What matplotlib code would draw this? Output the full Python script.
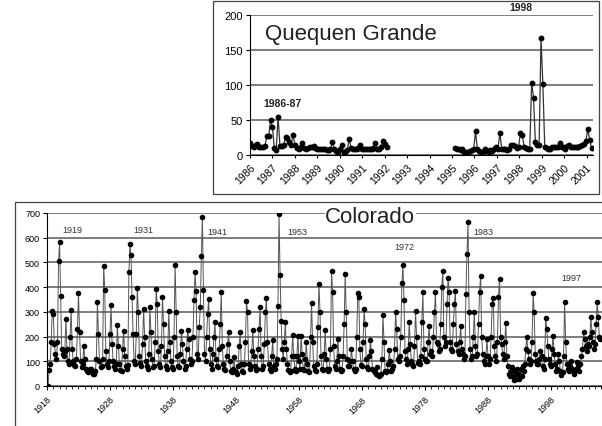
import numpy as np
import matplotlib.pyplot as plt
from matplotlib.patches import Rectangle

plt.rcParams['font.family'] = ['Liberation Sans', 'DejaVu Sans']

# --- Quequen Grande, caudal mensual (m3/s) ---
qg_start_1 = 1986.0
qg_flow_1 = [17, 13, 12, 15, 16, 12, 11, 11, 13, 27, 27, 50, 40, 10, 7, 55,
             13, 13, 14, 26, 25, 18, 15, 29, 14, 10, 9, 11, 17, 10, 9, 10,
             11, 12, 13, 10, 9, 9, 8, 8, 8, 7, 7, 8, 18, 9, 6, 4, 8, 14,
             4, 5, 7, 23, 10, 9, 8, 9, 10, 14, 9, 8, 8, 9, 8, 9, 10, 17,
             8, 9, 12, 20, 16, 11]
qg_start_2 = 1995.13
qg_flow_2 = [10, 9, 9, 7, 8, 5, 5, 4, 6, 7, 8, 34, 8, 6, 5, 5, 8, 6, 5, 7,
             6, 8, 12, 9, 31, 9, 8, 8, 7, 9, 14, 15, 13, 10, 11, 32, 28, 12,
             10, 9, 9, 103, 82, 18, 15, 14, 167, 101, 12, 10, 9, 9, 11, 11,
             12, 12, 17, 12, 12, 9, 13, 15, 12, 11, 12, 11, 12, 13, 14, 16,
             20, 37, 22, 10]
qg_years = list(range(1986, 2002))

# --- Colorado, caudal (m3/s), 6 valores por año ---
colorado_first_year = 1918
colorado_flow = [
    [0, 0, 65, 90, 180, 305],        # 1918
    [290, 170, 130, 110, 180, 505],
    [581, 365, 150, 130, 120, 140],
    [271, 150, 100, 90, 200, 307],
    [150, 100, 85, 80, 110, 230],
    [375, 220, 100, 75, 90, 163],
    [110, 70, 60, 55, 60, 70],
    [70, 55, 50, 50, 60, 110],
    [338, 210, 100, 75, 80, 110],
    [487, 390, 140, 90, 75, 100],
    [210, 329, 170, 100, 80, 70],    # 1928
    [90, 248, 160, 90, 65, 60],
    [150, 224, 120, 80, 70, 85],
    [460, 575, 530, 360, 210, 100],
    [90, 210, 397, 300, 120, 95],
    [80, 170, 312, 200, 100, 80],
    [70, 130, 321, 220, 110, 75],
    [80, 180, 393, 330, 140, 90],
    [75, 160, 362, 250, 120, 80],
    [70, 140, 302, 180, 100, 75],
    [70, 200, 491, 300, 120, 80],    # 1938
    [75, 130, 224, 170, 100, 70],
    [80, 150, 227, 190, 110, 90],
    [100, 200, 348, 460, 383, 130],
    [110, 240, 318, 527, 685, 388],
    [130, 100, 200, 290, 352, 150],
    [90, 70, 130, 200, 258, 110],
    [80, 75, 150, 250, 379, 160],
    [90, 70, 65, 120, 170, 217],
    [100, 60, 55, 70, 116, 60],
    [55, 50, 80, 160, 217, 90],      # 1948
    [60, 55, 90, 180, 345, 300],
    [90, 70, 80, 140, 227, 120],
    [80, 65, 70, 150, 230, 318],
    [120, 70, 80, 170, 300, 356],
    [180, 90, 70, 60, 120, 186],
    [80, 70, 90, 110, 325, 696],
    [449, 265, 150, 110, 180, 258],
    [150, 90, 65, 55, 60, 120],
    [206, 120, 70, 60, 120, 204],
    [100, 70, 204, 130, 70, 65],     # 1958
    [110, 177, 90, 60, 55, 200],
    [335, 180, 80, 65, 60, 90],
    [240, 413, 300, 120, 70, 65],
    [130, 227, 110, 70, 60, 70],
    [150, 467, 380, 160, 80, 70],
    [100, 190, 120, 70, 60, 65],
    [120, 250, 453, 300, 110, 80],
    [80, 100, 150, 100, 70, 60],
    [70, 200, 375, 360, 150, 85],
    [80, 180, 312, 250, 110, 75],    # 1968
    [70, 120, 186, 140, 70, 60],
    [55, 50, 76, 45, 40, 45],
    [50, 110, 289, 180, 60, 55],
    [60, 90, 146, 100, 60, 70],
    [80, 150, 298, 230, 110, 100],
    [120, 200, 415, 490, 350, 140],
    [110, 90, 150, 258, 170, 100],
    [90, 80, 160, 302, 200, 95],
    [100, 90, 120, 260, 379, 150],
    [110, 100, 100, 180, 244, 130],  # 1978
    [140, 120, 200, 300, 379, 180],
    [170, 140, 150, 250, 400, 467],
    [200, 160, 180, 330, 437, 380],
    [180, 150, 140, 250, 330, 386],
    [170, 140, 130, 180, 244, 150],
    [130, 110, 120, 372, 534, 662],
    [300, 150, 110, 120, 200, 298],
    [160, 120, 130, 250, 380, 446],
    [200, 130, 100, 90, 120, 190],
    [120, 90, 110, 200, 330, 355],   # 1988
    [160, 120, 100, 180, 360, 433],
    [200, 170, 130, 110, 180, 254],
    [120, 80, 50, 40, 60, 76],
    [40, 25, 60, 30, 70, 50],
    [30, 70, 40, 80, 60, 90],
    [150, 197, 140, 110, 90, 100],
    [180, 375, 300, 130, 100, 90],
    [90, 110, 143, 120, 80, 70],
    [110, 274, 230, 160, 110, 90],
    [80, 150, 204, 130, 90, 60],     # 1998
    [70, 130, 100, 60, 45, 55],
    [120, 339, 180, 90, 70, 60],
    [80, 103, 70, 60, 50, 65],
    [70, 96, 80, 60, 90, 120],
    [150, 217, 190, 160, 140, 170],
    [160, 200, 278, 220, 180, 150],
    [170, 250, 339, 280, 200, 190],  # 2005
]
colorado_ticks = list(range(1918, 2008, 10))

# etiquetas de eventos
colorado_events = ['1919', '1931', '1941', '1953', '1972', '1983', '1997']
colorado_event_x = [1922.0, 1933.3, 1945.1, 1957.8, 1974.8, 1987.2, 2001.2]
colorado_event_y = [635, 635, 627, 627, 566, 627, 441]

fig = plt.figure(figsize=(6.02, 4.27), dpi=100)

# marcos tipo Excel
fig.patches.append(Rectangle((213 / 602, 1 - 195 / 427), 386 / 602, 193 / 427,
                             transform=fig.transFigure, fill=False,
                             edgecolor='#444444', linewidth=0.9))
fig.patches.append(Rectangle((15 / 602, -0.01), 1.0, 1 - 203 / 427 + 0.01,
                             transform=fig.transFigure, fill=False,
                             edgecolor='#444444', linewidth=0.9))

grid_col = '#5a5a5a'

# ---------- Colorado ----------
ax2 = fig.add_axes([47 / 602, 1 - 387 / 427, 1 - 47 / 602, 173 / 427])
cx = []
cy = []
for k, row in enumerate(colorado_flow):
    for i, v in enumerate(row):
        cx.append(colorado_first_year + k + i / 6)
        cy.append(v)
ax2.plot(cx, cy, color='#555555', linewidth=0.7, marker='o', markersize=3.0,
         markerfacecolor='black', markeredgecolor='black', zorder=3)
ax2.set_ylim(0, 700)
ax2.set_xlim(1918, 2006.1)
ax2.set_yticks(range(0, 701, 100))
ax2.set_xticks(colorado_ticks)
ax2.set_xticks(range(1918, 2007), minor=True)
ax2.set_xticklabels([str(t) for t in colorado_ticks], rotation=45, ha='right',
                    rotation_mode='anchor', fontsize=6.5)
ax2.tick_params(axis='y', labelsize=6.5, length=3, pad=2)
ax2.tick_params(axis='x', which='major', length=3, pad=3)
ax2.tick_params(axis='x', which='minor', length=2)
ax2.grid(axis='y', color=grid_col, linewidth=1.1)
ax2.set_axisbelow(True)
for s in ['top', 'right']:
    ax2.spines[s].set_visible(False)
ax2.spines['left'].set_linewidth(0.8)
ax2.spines['bottom'].set_linewidth(0.8)
ax2.patch.set_alpha(0)
ax2.text(1969.3, 684, 'Colorado', fontsize=16, ha='center', va='center',
         color='#222222', zorder=4, clip_on=False,
         bbox=dict(facecolor='white', edgecolor='none', pad=0.5))
for lab, xx, yy in zip(colorado_events, colorado_event_x, colorado_event_y):
    ax2.text(xx, yy, lab, fontsize=6.5, ha='center', va='center', color='#333333')

# ---------- Quequen Grande ----------
ax1 = fig.add_axes([250 / 602, 1 - 156 / 427, 343 / 602, 140 / 427])
qx1 = qg_start_1 + np.arange(len(qg_flow_1)) / 12
qx2 = qg_start_2 + np.arange(len(qg_flow_2)) / 12
for xx, yy in [(qx1, qg_flow_1), (qx2, qg_flow_2)]:
    ax1.plot(xx, yy, color='#333333', linewidth=0.9, marker='o', markersize=3.2,
             markerfacecolor='black', markeredgecolor='black', zorder=3)
ax1.set_ylim(0, 200)
ax1.set_xlim(1986, 2001.28)
ax1.set_yticks(range(0, 201, 50))
ax1.set_xticks(qg_years)
ax1.set_xticklabels([str(y) for y in qg_years], rotation=45, ha='right',
                    rotation_mode='anchor', fontsize=7.5)
ax1.tick_params(axis='y', labelsize=8, length=3, pad=2)
ax1.tick_params(axis='x', length=2, pad=3)
ax1.grid(axis='y', color=grid_col, linewidth=1.1)
ax1.set_axisbelow(True)
for s in ['top', 'right']:
    ax1.spines[s].set_visible(False)
ax1.text(1986.67, 174, 'Quequen Grande', fontsize=16, ha='left', va='center',
         color='#222222')
ax1.text(1987.45, 74, '1986-87', fontsize=7.5, fontweight='bold', ha='center',
         va='center', color='#222222')
ax1.text(1998.07, 211, '1998', fontsize=7.5, fontweight='bold', ha='center',
         va='center', color='#222222', clip_on=False)

fig.savefig('out.png', dpi=100)
